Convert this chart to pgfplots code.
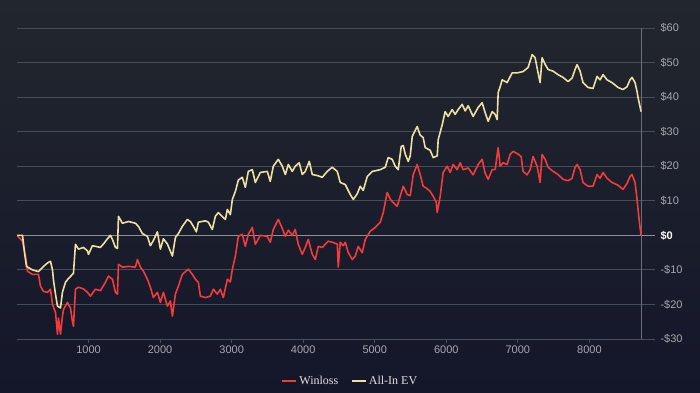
\documentclass[border=0pt]{standalone}
\usepackage{pgfplots}
\pgfplotsset{compat=1.18}
\usepackage{fontspec}
\setmainfont{Liberation Serif}
\newfontfamily\tickfont{Liberation Sans}
\definecolor{bgtop}{HTML}{22272E}
\definecolor{bgbot}{HTML}{14162A}
\definecolor{gridc}{HTML}{494E56}
\definecolor{vline}{HTML}{6C7078}
\definecolor{zeroc}{HTML}{8E9096}
\definecolor{winred}{HTML}{F23B3B}
\definecolor{evyel}{HTML}{EEE0A0}
\definecolor{ticktext}{HTML}{A6A8AC}
\definecolor{legtext}{HTML}{E2E2E2}
\begin{document}
\begin{tikzpicture}
\useasboundingbox (0,0) rectangle (700bp,393bp);
\shade[top color=bgtop,bottom color=bgbot] (0,0) rectangle (700bp,393bp);
\begin{axis}[
  at={(17bp,54bp)}, anchor=south west,
  scale only axis, width=638bp, height=311bp,
  xmin=0, xmax=8917, ymin=-30, ymax=60,
  axis line style={draw=none},
  ymajorgrids, grid style={gridc, line width=0.9bp},
  xtick={1000,2000,3000,4000,5000,6000,7000,8000},
  xticklabels={1000,2000,3000,4000,5000,6000,7000,8000},
  xtick pos=bottom, tick align=outside, major tick length=4bp,
  x tick style={gridc, line width=0.8bp},
  ytick={-30,-20,-10,0,10,20,30,40,50,60},
  yticklabels={-\$30,-\$20,-\$10,{\textcolor{white}{\bfseries\$0}},\$10,\$20,\$30,\$40,\$50,\$60},
  yticklabel pos=right, ytick style={draw=none},
  y tick label style={anchor=west, xshift=-2bp},
  x tick label style={yshift=1bp},
  tick label style={font=\tickfont\fontsize{11bp}{13bp}\selectfont, text=ticktext},
  legend style={at={(0.522,-0.135)}, anchor=center, draw=none, fill=none,
    text=legtext, font=\fontsize{12bp}{14bp}\selectfont, legend columns=2,
    /tikz/every even column/.append style={column sep=10bp}},
  legend image code/.code={\draw[line width=2.6bp] (0bp,0bp) -- (14bp,0bp);},
]
\addplot[zeroc, line width=1.4bp, forget plot] coordinates {(0,0) (8917,0)};
\addplot[vline, line width=0.8bp, forget plot] coordinates {(8722,-30) (8722,60)};
\addplot[winred, line width=1.6bp, line join=round] coordinates {
(0,0)(77,-1.7)(119,-6)(147,-10.4)(216,-11.3)(300,-11.3)(328,-14.7)(370,-16.2)(426,-16.5)(468,-15.6)
(496,-20)(538,-22.3)(566,-28.6)(580,-24)(608,-28.6)(635,-23.4)(649,-21.5)(705,-19.4)(747,-21)(775,-25)
(789,-26.3)(817,-15.6)(859,-15)(929,-15.5)(985,-16.5)(1026,-17.6)(1096,-15.6)(1166,-16)(1236,-13.6)(1278,-11.8)
(1334,-12.7)(1376,-16.5)(1404,-17)(1418,-8.4)(1473,-9.2)(1560,-9)(1655,-9.2)(1683,-7)(1725,-9.2)(1767,-10.4)
(1823,-12.7)(1864,-15)(1906,-18)(1962,-16.5)(2004,-19.4)(2046,-16.5)(2102,-20.5)(2144,-19)(2172,-23.4)(2214,-17)
(2256,-14.7)(2311,-11.3)(2353,-10.5)(2395,-9.8)(2451,-11.3)(2493,-12.7)(2535,-13.6)(2563,-17.6)(2633,-18)(2702,-17.6)
(2744,-15.6)(2800,-17)(2842,-15.6)(2884,-18)(2940,-12.7)(2982,-13.5)(3010,-9.8)(3052,-6)(3094,-0.3)(3149,0.3)
(3191,-3.2)(3233,0.3)(3289,2.3)(3331,-2.6)(3401,0)(3498,-0.3)(3540,-2)(3582,1.7)(3652,4.6)(3708,2)
(3750,-0.3)(3792,1.5)(3847,0)(3889,1.7)(3931,-2.6)(3987,-5.5)(4029,-3.5)(4071,-1.2)(4127,-5.5)(4169,-7)
(4211,-3.2)(4267,-3.5)(4308,-2.6)(4350,-1.7)(4406,-2)(4476,-2.5)(4490,-9.2)(4518,-2)(4560,-3)(4588,-2)
(4630,-5)(4686,-7)(4728,-6)(4769,-3.2)(4825,-5)(4867,-1.2)(4937,1.2)(5007,2.3)(5077,3.8)(5119,6.6)
(5174,12.4)(5216,10.5)(5258,9.5)(5314,8.4)(5356,11.3)(5398,14.2)(5454,11.8)(5496,11.5)(5538,17.6)(5593,20.5)
(5635,17.6)(5677,14.2)(5733,13.5)(5775,12.7)(5817,11.3)(5860,9.5)(5873,6.6)(5915,11.3)(5956,18.2)(6012,20)
(6054,18.2)(6096,20.5)(6152,19)(6194,21)(6236,19)(6306,19.5)(6375,17.5)(6445,20.5)(6501,22)(6543,18)
(6585,16.2)(6641,19)(6683,19)(6725,25.4)(6753,20)(6794,21)(6850,20.5)(6892,23.4)(6934,24.3)(7004,23.5)
(7046,22.8)(7074,18.5)(7130,17.5)(7172,19)(7213,22.8)(7269,20)(7283,18.5)(7311,15.3)(7339,23.4)(7381,22)
(7423,19.7)(7493,18.5)(7562,17.6)(7632,16.2)(7702,15.8)(7758,16.5)(7800,19.7)(7828,20.5)(7870,19)(7911,15.3)
(7981,14.2)(8051,14.2)(8107,17.6)(8149,16.5)(8191,18.2)(8247,16.5)(8317,15.3)(8400,14.5)(8470,13.3)(8526,15)
(8568,17)(8596,17.6)(8638,15.3)(8666,10.4)(8694,4.6)(8722,0)
};
\addlegendentry{Winloss}
\addplot[evyel, line width=1.6bp, line join=round] coordinates {
(0,0)(77,0)(105,-5)(133,-9)(216,-10)(300,-10.5)(370,-9)(426,-8)(468,-7.5)(496,-10)
(510,-13)(538,-17)(566,-20.5)(608,-21)(635,-16.5)(677,-13.6)(719,-12.5)(789,-11)(817,-2.6)(859,-4)
(929,-3.5)(985,-4.5)(999,-5.5)(1054,-3)(1166,-3.5)(1208,-2.5)(1264,-1)(1306,0)(1334,-1.2)(1376,-3.5)
(1404,-3.8)(1418,5.5)(1473,3.5)(1560,4)(1655,3.5)(1697,2.6)(1753,0.5)(1823,-0.3)(1864,-3)(1906,-1.5)
(1962,1)(2004,-4)(2046,-1)(2102,-2.5)(2144,-4.6)(2172,-6)(2214,-0.6)(2256,0.5)(2311,2.6)(2381,4.6)
(2423,4)(2465,2.6)(2507,1)(2535,3.8)(2633,4.2)(2674,3.8)(2730,1.7)(2772,5.5)(2814,6.6)(2842,6)
(2912,4.6)(2940,7.5)(2982,6)(3010,10.4)(3052,12.7)(3094,16)(3149,16.8)(3191,13.9)(3233,18.5)(3289,19)
(3331,15.3)(3401,18.2)(3498,18.5)(3540,15.6)(3582,20)(3652,22)(3708,20)(3750,17.6)(3792,20.5)(3847,18.5)
(3889,20)(3945,21)(3987,17.6)(4029,18.5)(4085,21.4)(4127,17.6)(4197,17.3)(4267,16.8)(4336,18.5)(4406,19.7)
(4476,18.5)(4518,15.3)(4588,14.7)(4658,11.8)(4700,10.4)(4755,12)(4797,14.2)(4839,13)(4895,17)(4965,18.5)
(5077,19)(5147,19.7)(5188,22.5)(5244,22)(5286,20)(5328,19)(5370,25.7)(5398,26)(5426,23.5)(5468,21.4)
(5496,23)(5524,28.6)(5593,31.5)(5635,29)(5677,28.3)(5705,25.4)(5775,24.6)(5817,22.5)(5873,23)(5887,27.7)
(5943,32)(5984,35.8)(6026,34.4)(6082,36.4)(6124,35)(6166,36.4)(6222,37.9)(6264,36)(6306,37.5)(6375,34.4)
(6445,37)(6501,38.4)(6543,35.5)(6585,33)(6641,35.8)(6683,35)(6711,33.5)(6725,41.3)(6753,43)(6781,45)
(6850,44.2)(6920,47)(6990,47)(7074,47.4)(7144,48.6)(7200,52.3)(7241,51.4)(7283,47)(7311,44.2)(7339,51.4)
(7381,49.5)(7423,48)(7493,47.5)(7562,46.5)(7632,45.7)(7702,44.5)(7758,45.5)(7800,48)(7828,49.4)(7870,47.5)
(7911,44.2)(7981,42.8)(8051,42.5)(8107,46)(8149,45)(8191,46.5)(8247,45)(8317,44.2)(8400,42.8)(8470,42.2)
(8526,43)(8568,45)(8596,45.7)(8638,44.2)(8666,41.6)(8680,39.9)(8722,35.8)
};
\addlegendentry{All-In EV}
\end{axis}
\end{tikzpicture}
\end{document}
